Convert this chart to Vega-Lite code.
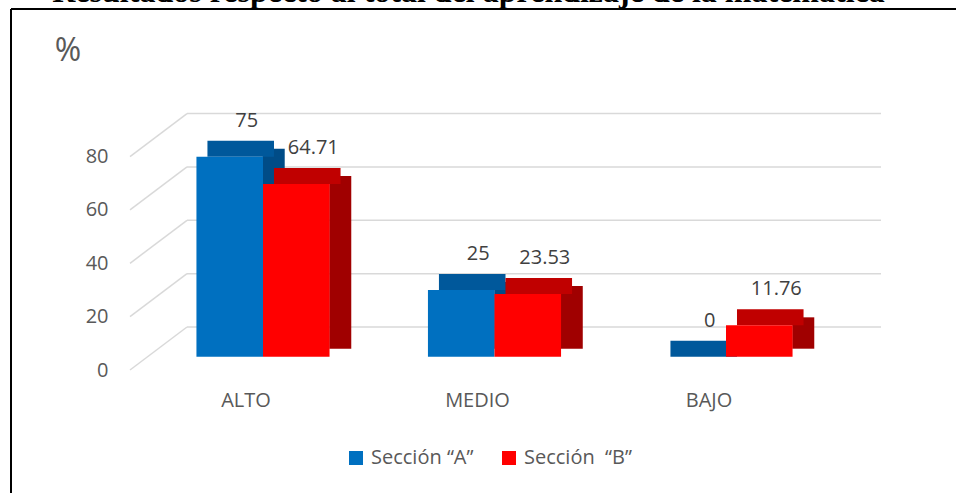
{
  "$schema": "https://vega.github.io/schema/vega-lite/v6.json",
  "width": 945,
  "height": 484,
  "autosize": {"type": "none"},
  "padding": {"left": 11, "top": 9, "right": 0, "bottom": 0},
  "background": "white",
  "config": {"view": {"stroke": null}, "font": "Open Sans"},
  "title": {
    "text": "Resultados respecto al total del aprendizaje de la matemática",
    "font": "Liberation Serif",
    "fontSize": 32,
    "fontWeight": "bold",
    "color": "black",
    "anchor": "middle",
    "frame": "group",
    "baseline": "alphabetic",
    "offset": 5,
    "dx": -15,
    "dy": 31
  },
  "datasets": {
    "barras": [
      {"nivel": "ALTO", "grupo": "A", "seccion": "Sección “A”", "pct": 75},
      {"nivel": "ALTO", "grupo": "B", "seccion": "Sección\u00a0 “B”", "pct": 64.71},
      {"nivel": "MEDIO", "grupo": "A", "seccion": "Sección “A”", "pct": 25},
      {"nivel": "MEDIO", "grupo": "B", "seccion": "Sección\u00a0 “B”", "pct": 23.53},
      {"nivel": "BAJO", "grupo": "A", "seccion": "Sección “A”", "pct": 0},
      {"nivel": "BAJO", "grupo": "B", "seccion": "Sección\u00a0 “B”", "pct": 11.76}
    ],
    "rejilla": [{"v": 0}, {"v": 20}, {"v": 40}, {"v": 60}, {"v": 80}],
    "marco": [{"lado": "borde"}]
  },
  "layer": [
    {
      "data": {"name": "marco"},
      "layer": [
        {
          "mark": {"type": "rule", "color": "black", "strokeWidth": 2},
          "encoding": {"y": {"datum": 0, "type": "quantitative", "scale": {"domain": [0, 1], "range": [0, 1]}, "axis": null}}
        },
        {
          "mark": {"type": "rule", "color": "black", "strokeWidth": 2},
          "encoding": {"x": {"datum": 0, "type": "quantitative", "scale": {"domain": [0, 1], "range": [0, 1]}, "axis": null}}
        }
      ]
    },
    {
      "data": {"name": "rejilla"},
      "layer": [
        {
          "mark": {"type": "rule", "color": "#D9D9D9", "strokeWidth": 1.5, "yOffset": -29.7, "y2Offset": -29.7},
          "encoding": {
            "x": {"datum": 0, "type": "quantitative", "scale": {"domain": [0, 1], "range": [176, 870]}, "axis": null},
            "x2": {"datum": 1},
            "y": {"field": "v", "type": "quantitative", "scale": {"domain": [0, 80], "range": [347.7, 134.3]}, "axis": null},
            "y2": {"field": "v"}
          }
        },
        {
          "mark": {"type": "rule", "color": "#D9D9D9", "strokeWidth": 1.5, "xOffset": -57, "yOffset": 13.3, "y2Offset": -29.7},
          "encoding": {
            "x": {"datum": 0, "type": "quantitative"},
            "x2": {"datum": 0},
            "y": {"field": "v", "type": "quantitative"},
            "y2": {"field": "v"}
          }
        }
      ]
    },
    {
      "data": {"name": "barras"},
      "encoding": {
        "x": {
          "field": "nivel",
          "type": "nominal",
          "sort": ["ALTO", "MEDIO", "BAJO"],
          "scale": {"range": [136.25, 830.75], "paddingInner": 0.425, "paddingOuter": 0.2125},
          "axis": {
            "orient": "bottom",
            "offset": -93,
            "labelOffset": -17,
            "ticks": false,
            "domain": false,
            "grid": false,
            "labelFontSize": 20,
            "labelColor": "#595959",
            "labelPadding": 0,
            "labelBaseline": "middle",
            "labelAngle": 0,
            "labelFont": "Open Sans",
            "title": null
          }
        },
        "y": {
          "field": "pct",
          "type": "quantitative",
          "scale": {"domain": [0, 80], "range": [347.7, 134.3]},
          "axis": {
            "orient": "left",
            "offset": -97,
            "labelOffset": 13.3,
            "values": [0, 20, 40, 60, 80],
            "ticks": false,
            "domain": false,
            "grid": false,
            "labelFontSize": 20,
            "labelColor": "#595959",
            "labelPadding": 0,
            "labelFont": "Open Sans",
            "title": "%",
            "titleAngle": 0,
            "titleFontSize": 32,
            "titleFontWeight": "normal",
            "titleColor": "#595959",
            "titleFont": "Open Sans",
            "titleX": -40.5,
            "titleY": 41.5,
            "titleAlign": "center",
            "titleBaseline": "middle"
          }
        }
      },
      "layer": [
        {
          "mark": {"type": "bar", "width": 22, "yOffset": -8, "y2Offset": -8},
          "encoding": {
            "xOffset": {"field": "grupo", "type": "nominal", "sort": ["A", "B"], "scale": {"range": [44, 177.1]}},
            "y2": {"datum": 0},
            "fill": {"condition": {"test": "datum.grupo === 'A'", "value": "#004C87"}, "value": "#A00000"}
          }
        },
        {
          "mark": {"type": "bar", "yOffset": -16, "y2Offset": 0},
          "encoding": {
            "xOffset": {"field": "grupo", "type": "nominal", "sort": ["A", "B"], "scale": {"range": [11, 144.1]}},
            "y2": {"field": "pct"},
            "fill": {"condition": {"test": "datum.grupo === 'A'", "value": "#00589B"}, "value": "#C00000"}
          }
        },
        {
          "mark": {"type": "bar"},
          "encoding": {
            "xOffset": {"field": "grupo", "type": "nominal", "sort": ["A", "B"]},
            "color": {
              "field": "seccion",
              "type": "nominal",
              "scale": {"domain": ["Sección “A”", "Sección\u00a0 “B”"], "range": ["#0070C0", "#FF0000"]},
              "legend": {
                "orient": "none",
                "legendX": 335,
                "legendY": 439,
                "direction": "horizontal",
                "title": null,
                "symbolType": "square",
                "symbolSize": 196,
                "symbolStrokeWidth": 0,
                "labelFontSize": 20,
                "labelColor": "#595959",
                "labelFont": "Open Sans",
                "labelOffset": 5,
                "columnPadding": 25,
                "padding": 0
              }
            }
          }
        },
        {
          "mark": {"type": "text", "dx": 17, "dy": -36, "fontSize": 20, "color": "#404040", "baseline": "middle", "align": "center", "font": "Open Sans"},
          "encoding": {
            "xOffset": {"field": "grupo", "type": "nominal", "sort": ["A", "B"]},
            "text": {"field": "pct", "type": "quantitative", "format": "~g"}
          }
        }
      ],
      "resolve": {"scale": {"xOffset": "independent"}}
    }
  ],
  "resolve": {"scale": {"x": "independent", "y": "independent"}}
}
